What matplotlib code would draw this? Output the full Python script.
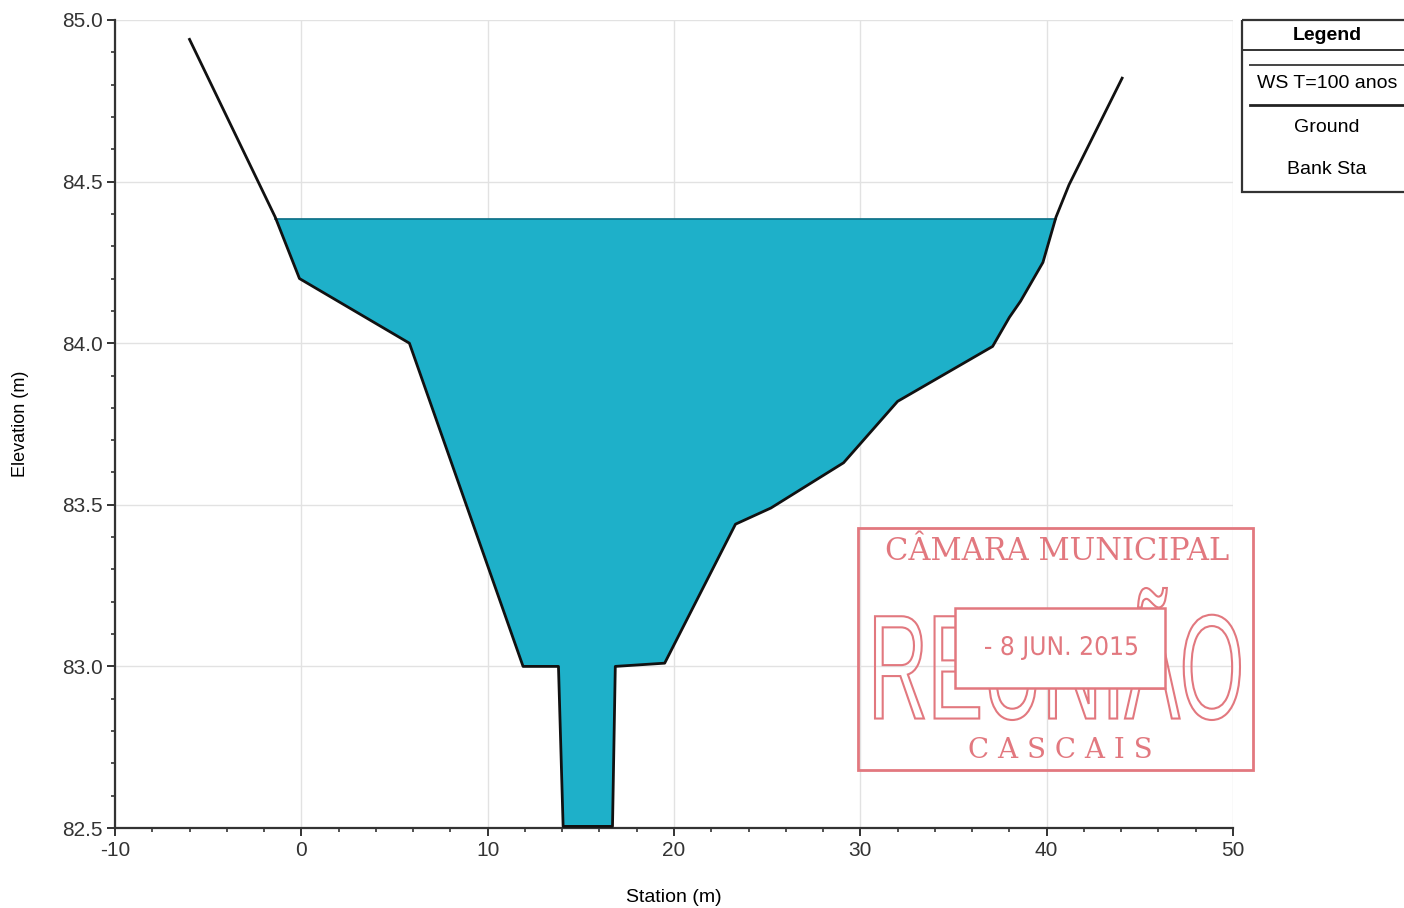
import matplotlib.pyplot as plt
from matplotlib.patches import Rectangle, PathPatch
from matplotlib.textpath import TextPath
from matplotlib.font_manager import FontProperties
from matplotlib.transforms import Affine2D

plt.rcParams['font.family'] = ['Liberation Sans', 'DejaVu Sans']
plt.rcParams['axes.unicode_minus'] = False

# ground profile (station m, elevation m)
station = [-6.0, -1.4, -0.1, 5.8, 11.9, 13.8, 14.05, 16.7, 16.85, 19.5,
           23.3, 25.2, 29.1, 32.0, 37.1, 38.0, 38.6, 39.8, 40.5, 41.2, 44.05]
elevation = [84.94, 84.39, 84.20, 84.00, 83.00, 83.00, 82.505, 82.505, 83.00, 83.01,
             83.44, 83.49, 83.63, 83.82, 83.99, 84.08, 84.13, 84.25, 84.39, 84.49, 84.82]
ws_elev = 84.385
legend_labels = ["WS T=100 anos", "Ground", "Bank Sta"]

water_color = "#1eb0c9"

fig = plt.figure(figsize=(14.04, 9.08), dpi=100)
ax = fig.add_axes([0.0819, 0.0881, 0.7963, 0.8899])

# water surface polygon between the two bank crossings
wx = station[1:19]
we = [ws_elev] + elevation[2:18] + [ws_elev]
ax.fill(wx, we, color=water_color, zorder=2, lw=0)
ax.plot([station[1], station[18]], [ws_elev, ws_elev], color="#0e6f85", lw=1.2, zorder=3)
ax.plot(station, elevation, color="#111111", lw=2.0, zorder=4)

ax.set_xlim(-10, 50)
ax.set_ylim(82.5, 85.0)
ax.set_xticks(range(-10, 51, 10))
ax.set_xticks(range(-10, 51, 2), minor=True)
ax.set_yticks([82.5, 83.0, 83.5, 84.0, 84.5, 85.0])
ax.set_yticks([82.5 + 0.1 * i for i in range(26)], minor=True)
ax.set_yticklabels(["82.5", "83.0", "83.5", "84.0", "84.5", "85.0"])
ax.grid(True, which="major", color="#e2e2e2", lw=1.0, zorder=0)
for side in ("top", "right"):
    ax.spines[side].set_visible(False)
for side in ("left", "bottom"):
    ax.spines[side].set_linewidth(1.6)
    ax.spines[side].set_color("#333333")
ax.tick_params(which="major", length=6, width=1.4, labelsize=15, colors="#333333", pad=3)
ax.tick_params(which="minor", length=3, width=1.2, colors="#333333")
ax.set_xlabel("Station (m)", fontsize=14)
ax.set_ylabel("Elevation (m)", fontsize=13)
ax.xaxis.set_label_coords(0.5, -(897 - 828) / 808)
ax.yaxis.set_label_coords(-(115 - 21) / 1118, 0.5)
ax.xaxis.label.set_va("center")
ax.yaxis.label.set_va("center")

# overlay in pixel coordinates for the legend panel and the stamp
ov = fig.add_axes([0, 0, 1, 1], facecolor="none")
ov.set_xlim(0, 1404)
ov.set_ylim(908, 0)
ov.axis("off")

ov.add_patch(Rectangle((1242, 20), 200, 172, fill=False, edgecolor="#333333", lw=1.6))
ov.plot([1242, 1420], [50, 50], color="#333333", lw=1.4)
ov.text(1327, 35, "Legend", ha="center", va="center", fontsize=14, fontweight="bold")
ov.plot([1250, 1404], [65, 65], color="#444444", lw=1.4)
ov.text(1327, 84, legend_labels[0], ha="center", va="center", fontsize=14)
ov.plot([1250, 1404], [105, 105], color="#222222", lw=2.0)
ov.text(1327, 127, legend_labels[1], ha="center", va="center", fontsize=14)
ov.text(1327, 169, legend_labels[2], ha="center", va="center", fontsize=14)


def stretched_text(s, x0, x1, y_top, y_bot, family, **kw):
    tp = TextPath((0, 0), s, size=100, prop=FontProperties(family=family))
    bb = tp.get_extents()
    tr = (Affine2D().translate(-bb.x0, -bb.y0)
          .scale((x1 - x0) / bb.width, -(y_bot - y_top) / bb.height)
          .translate(x0, y_bot))
    ov.add_patch(PathPatch(tr.transform_path(tp), **kw))


# reception stamp
red = "#e2787f"
ov.add_patch(Rectangle((858, 528), 395, 242, fill=False, edgecolor=red, lw=2.0, zorder=2))
ov.text(1057, 552, "CÂMARA MUNICIPAL", ha="center", va="center", fontsize=22,
        family="DejaVu Serif", color=red, zorder=3)
stretched_text("REUNIÃO", 875, 1240, 588, 720, "Liberation Sans",
               facecolor="none", edgecolor=red, lw=1.5, zorder=2)
ov.add_patch(Rectangle((955, 608), 210, 80, facecolor="white", edgecolor=red, lw=1.8, zorder=4))
stretched_text("- 8 JUN. 2015", 985, 1137, 636, 660, "DejaVu Sans",
               facecolor=red, edgecolor="none", zorder=5)
ov.text(1060, 750, "C A S C A I S", ha="center", va="center", fontsize=20,
        family="DejaVu Serif", color=red, zorder=3)

fig.savefig("out.png", dpi=100)
